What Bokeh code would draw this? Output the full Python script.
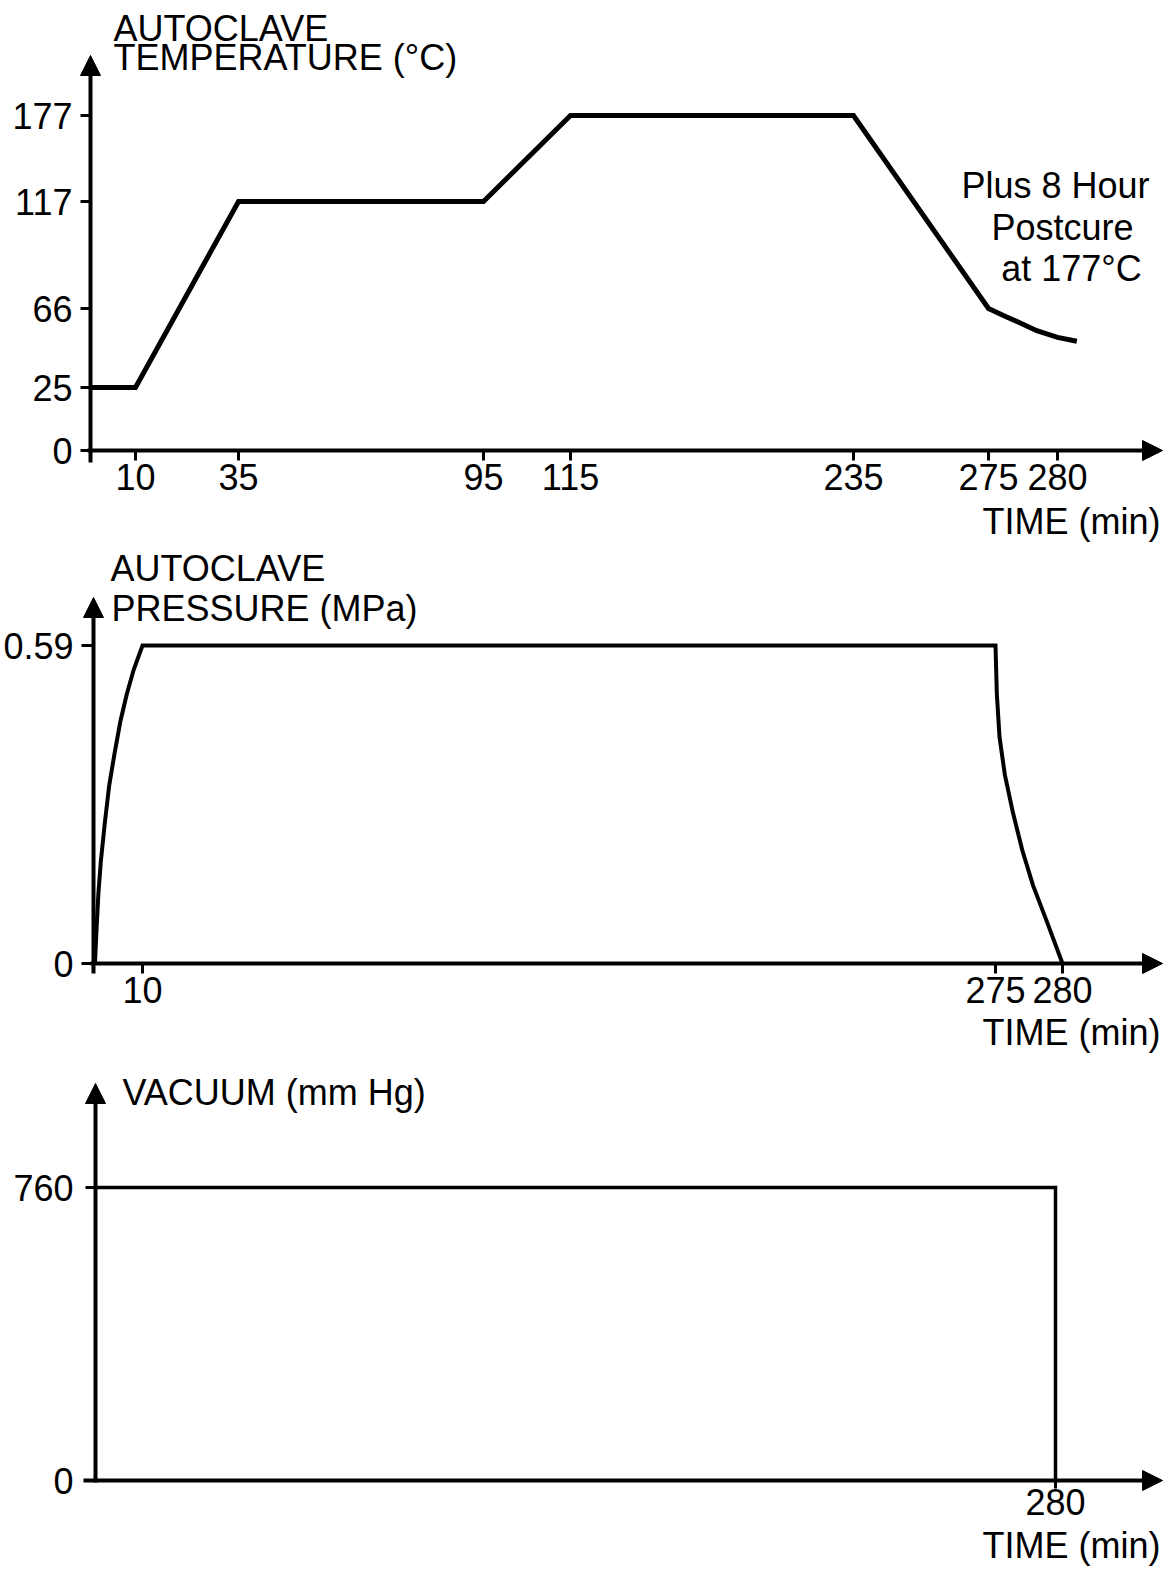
import numpy as np
from bokeh.plotting import figure
from bokeh.layouts import column
from bokeh.models import Arrow, NormalHead, Label, FixedTicker, Range1d
from bokeh.embed import file_html
from bokeh.resources import INLINE

FONT = "Liberation Sans"

# ---------------- data ----------------
# Panel 1: autoclave temperature (°C) vs time (min)
TIME_TICKS_1 = [10, 35, 95, 115, 235, 275, 280]
TEMP_TICKS = [0, 25, 66, 117, 177]
TEMP_TIME = [0, 10, 35, 95, 115, 235, 275, 276.2, 277.3, 278.5, 280.0, 281.4]
TEMP_C = [25, 25, 117, 117, 177, 177, 66, 62, 58.5, 54.5, 51, 49]

# Panel 2: autoclave pressure (MPa) vs time (min)
TIME_TICKS_2 = [10, 275, 280]
PRES_TICKS = [0, 0.59]
PRES_TIME = [0.3, 0.6, 1.0, 1.5, 2.3, 3.2, 4.3, 5.5, 6.8, 8.2, 10,
             275, 275.1, 275.3, 275.7, 276.3, 277.0, 277.8, 278.8, 280]
PRES_MPA = [0, 0.06, 0.13, 0.19, 0.26, 0.33, 0.39, 0.45, 0.50, 0.545, 0.59,
            0.59, 0.50, 0.42, 0.35, 0.28, 0.21, 0.145, 0.08, 0]

# Panel 3: vacuum (mm Hg) vs time (min)
TIME_TICKS_3 = [280]
VAC_TICKS = [0, 760]
VAC_TIME = [0, 280, 280]
VAC_MMHG = [760, 760, 0]

# ------------- schematic (non-uniform) axis layout, in px from the axis origin -------------
P1_X_KNOTS, P1_X_PIX = [0, 10, 35, 95, 115, 235, 275, 280], [0, 45, 148, 393, 480, 763, 898, 967]
P1_Y_KNOTS, P1_Y_PIX = [0, 25, 66, 117, 177], [0, 63, 142, 249, 335]
P2_X_KNOTS, P2_X_PIX = [0, 10, 275, 280], [0, 49, 902, 969]
P2_Y_KNOTS, P2_Y_PIX = [0, 0.59], [0, 318]
P3_X_KNOTS, P3_X_PIX = [0, 280], [0, 960]
P3_Y_KNOTS, P3_Y_PIX = [0, 760], [0, 293]

W = 1166


def make_scale(knots, pix):
    k = np.asarray(knots, float)
    q = np.asarray(pix, float)

    def f(v):
        v = np.atleast_1d(np.asarray(v, float))
        out = np.interp(v, k, q)
        hi = v > k[-1]
        out[hi] = q[-1] + (v[hi] - k[-1]) * (q[-1] - q[-2]) / (k[-1] - k[-2])
        lo = v < k[0]
        out[lo] = q[0] + (v[lo] - k[0]) * (q[1] - q[0]) / (k[1] - k[0])
        return out
    return f


def make_panel(height, ox, oy):
    # ox, oy: position of the axis origin inside this panel's canvas (px)
    p = figure(width=W, height=height,
               x_range=Range1d(-ox, W - ox), y_range=Range1d(oy - height, oy),
               output_backend="svg", toolbar_location=None,
               min_border_left=0, min_border_right=0,
               min_border_top=0, min_border_bottom=0)
    p.grid.visible = False
    p.outline_line_color = None
    p.background_fill_color = "white"
    p.border_fill_color = "white"
    for ax in (p.xaxis[0], p.yaxis[0]):
        ax.fixed_location = 0
        ax.axis_line_color = None
        ax.major_tick_line_color = "black"
        ax.major_tick_line_width = 3
        ax.minor_tick_line_color = None
        ax.major_label_text_font = FONT
        ax.major_label_text_font_size = "36px"
        ax.major_label_text_color = "black"
    return p


def set_ticks(axis, values, scale):
    pos = [float(v) for v in scale(values)]
    axis.ticker = FixedTicker(ticks=pos)
    axis.major_label_overrides = {pp: f"{v:g}" for pp, v in zip(pos, values)}


TEXT_DY = 14  # baseline correction of Label text


def add_text(p, x, y, text, align="left"):
    p.add_layout(Label(x=x, y=y + TEXT_DY, text=text, text_font=FONT, text_font_size="36px",
                       text_color="black", text_align=align, text_baseline="alphabetic"))


def add_axes_arrows(p, y_lo, y_tip, x_lo, x_tip, width=4):
    p.add_layout(Arrow(end=NormalHead(size=20, fill_color="black", line_color="black"),
                       x_start=0, y_start=y_lo, x_end=0, y_end=y_tip,
                       line_width=width, line_color="black"))
    p.add_layout(Arrow(end=NormalHead(size=20, fill_color="black", line_color="black"),
                       x_start=x_lo, y_start=0, x_end=x_tip, y_end=0,
                       line_width=width, line_color="black"))


# ---------------- Panel 1: temperature ----------------
sx1 = make_scale(P1_X_KNOTS, P1_X_PIX)
sy1 = make_scale(P1_Y_KNOTS, P1_Y_PIX)
p1 = make_panel(548, 90, 450)
set_ticks(p1.xaxis[0], TIME_TICKS_1, sx1)
set_ticks(p1.yaxis[0], TEMP_TICKS, sy1)
p1.xaxis.major_tick_out = 10
p1.xaxis.major_tick_in = 0
p1.xaxis.major_label_standoff = 3
p1.yaxis.major_tick_out = 10
p1.yaxis.major_tick_in = 0
p1.yaxis.major_label_standoff = 8
p1.line(sx1(TEMP_TIME), sy1(TEMP_C), line_width=5, line_color="black", line_join="miter")
add_axes_arrows(p1, -12, 395, -3, 1072)
add_text(p1, 23, 408, "AUTOCLAVE")
add_text(p1, 23, 379, "TEMPERATURE (°C)")
add_text(p1, 965, 251, "Plus 8 Hour", "center")
add_text(p1, 972, 209, "Postcure", "center")
add_text(p1, 981, 168, "at 177°C", "center")
add_text(p1, 1070, -85, "TIME (min)", "right")

# ---------------- Panel 2: pressure ----------------
sx2 = make_scale(P2_X_KNOTS, P2_X_PIX)
sy2 = make_scale(P2_Y_KNOTS, P2_Y_PIX)
p2 = make_panel(510, 93, 415)
set_ticks(p2.xaxis[0], TIME_TICKS_2, sx2)
set_ticks(p2.yaxis[0], PRES_TICKS, sy2)
p2.xaxis.major_tick_out = 10
p2.xaxis.major_tick_in = 0
p2.xaxis.major_label_standoff = 3
p2.yaxis.major_tick_out = 12
p2.yaxis.major_tick_in = 0
p2.yaxis.major_label_standoff = 8
p2.line(sx2(PRES_TIME), sy2(PRES_MPA), line_width=4, line_color="black", line_join="miter")
add_axes_arrows(p2, -10, 366, -3, 1069)
add_text(p2, 17, 381, "AUTOCLAVE")
add_text(p2, 18, 341, "PRESSURE (MPa)")
add_text(p2, 1067, -83, "TIME (min)", "right")

# ---------------- Panel 3: vacuum ----------------
sx3 = make_scale(P3_X_KNOTS, P3_X_PIX)
sy3 = make_scale(P3_Y_KNOTS, P3_Y_PIX)
p3 = make_panel(510, 95, 422)
set_ticks(p3.xaxis[0], TIME_TICKS_3, sx3)
set_ticks(p3.yaxis[0], VAC_TICKS, sy3)
p3.xaxis.major_tick_out = 8
p3.xaxis.major_tick_in = 0
p3.xaxis.major_label_standoff = 0
p3.yaxis.major_tick_out = 10
p3.yaxis.major_tick_in = 6
p3.yaxis.major_label_standoff = 12
p3.line(sx3(VAC_TIME), sy3(VAC_MMHG), line_width=3.5, line_color="black", line_join="miter")
add_axes_arrows(p3, -2, 397, -12, 1067)
add_text(p3, 27, 374, "VACUUM (mm Hg)")
add_text(p3, 1065, -79, "TIME (min)", "right")

layout = column(p1, p2, p3)
open("out.html", "w").write(file_html(layout, INLINE))
